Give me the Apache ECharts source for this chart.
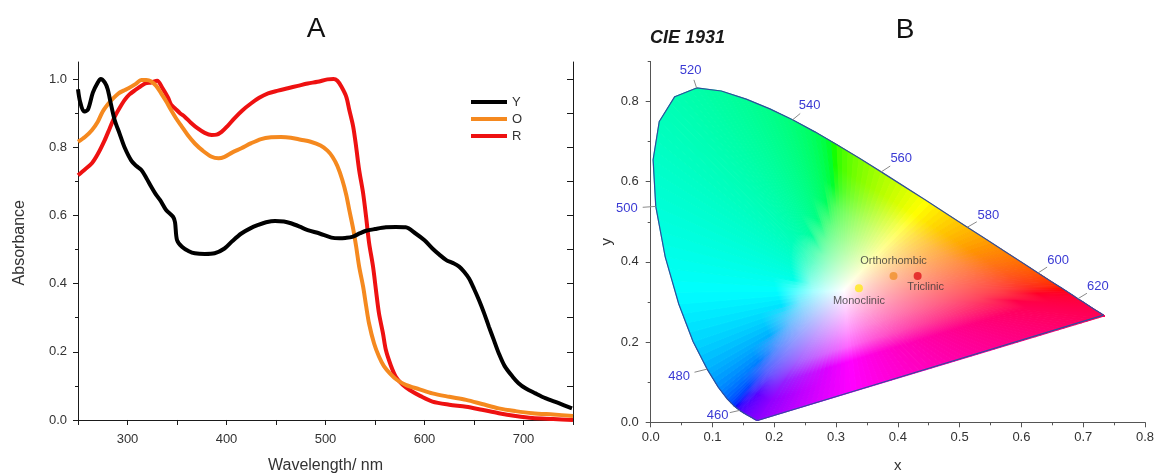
<!DOCTYPE html>
<html><head><meta charset="utf-8">
<script src="https://cdn.jsdelivr.net/npm/echarts@6/dist/echarts.min.js"></script>
<style>html,body{margin:0;padding:0;background:#fff}#c{width:1156px;height:476px}</style>
</head><body><div id="c"></div>
<script>
// ---------- Panel A: absorbance spectra ----------
const wlY = [250,252,256,260,265,270,273,277,280,283,287,292,297,304,309,314,319,324,329,333,339,346,348,350,355,362,368,378,388,398,406,415,424,432,440,449,458,465,474,482,494,506,514,520,527,535,541,550,561,571,581,591,600,608,615,622,629,635,640,645,650,655,660,665,670,675,681,689,695,702,712,722,735,749];
const absY = [0.97,0.935,0.905,0.91,0.96,0.99,1.0,0.99,0.97,0.93,0.88,0.84,0.80,0.76,0.745,0.733,0.71,0.684,0.66,0.645,0.616,0.596,0.58,0.528,0.508,0.495,0.489,0.487,0.489,0.503,0.525,0.547,0.562,0.572,0.58,0.584,0.582,0.577,0.567,0.557,0.547,0.535,0.533,0.534,0.537,0.548,0.555,0.56,0.565,0.566,0.565,0.547,0.527,0.503,0.485,0.469,0.46,0.45,0.435,0.415,0.385,0.352,0.315,0.274,0.235,0.196,0.158,0.127,0.108,0.093,0.078,0.064,0.05,0.034];

const wlO = [250,257,264,270,275,281,286,291,296,301,308,314,319,324,329,334,339,344,349,355,361,368,376,385,392,398,406,415,425,435,445,455,465,475,485,495,502,507,512,517,521,524,528,531,534,538,541,544,549,554,559,565,572,581,595,608,625,642,658,675,692,709,730,750];
const absO = [0.816,0.83,0.85,0.875,0.905,0.929,0.945,0.958,0.966,0.973,0.985,0.997,0.997,0.993,0.98,0.958,0.935,0.909,0.885,0.86,0.835,0.811,0.79,0.772,0.768,0.772,0.785,0.797,0.812,0.824,0.829,0.83,0.828,0.822,0.816,0.805,0.79,0.772,0.745,0.704,0.66,0.616,0.56,0.508,0.45,0.391,0.335,0.283,0.225,0.186,0.158,0.137,0.118,0.103,0.09,0.078,0.068,0.059,0.047,0.034,0.026,0.02,0.016,0.012];

const wlR = [250,257,264,270,277,282,287,292,297,302,308,313,318,324,330,335,341,344,348,353,358,364,371,378,385,390,395,401,408,416,425,433,442,452,462,472,482,492,502,508,512,516,521,524,528,531,534,538,541,544,548,551,554,558,561,566,571,578,585,596,608,625,642,658,675,692,709,730,750];
const absR = [0.718,0.735,0.753,0.78,0.821,0.855,0.889,0.915,0.938,0.955,0.968,0.978,0.987,0.99,0.995,0.975,0.945,0.925,0.914,0.9,0.889,0.872,0.855,0.842,0.836,0.837,0.845,0.862,0.885,0.908,0.929,0.945,0.958,0.966,0.973,0.98,0.987,0.992,0.999,1.0,0.995,0.978,0.948,0.91,0.86,0.8,0.733,0.665,0.596,0.52,0.45,0.38,0.313,0.255,0.205,0.16,0.127,0.103,0.088,0.07,0.054,0.045,0.039,0.03,0.02,0.012,0.006,0.003,0.0];

const seriesNames = ['Y','O','R'];
const xTickLabelsA = [300,400,500,600,700];
const yTickLabelsA = [0.0,0.2,0.4,0.6,0.8,1.0];

// ---------- Panel B: CIE 1931 ----------
const cieWl = [380,385,390,395,400,405,410,415,420,425,430,435,440,445,450,455,460,465,470,475,480,485,490,495,500,505,510,515,520,525,530,535,540,545,550,555,560,565,570,575,580,585,590,595,600,605,610,615,620,625,630,635,640,645,650,655,660,665,670,675,680,685,690,695,700];
const cieX = [0.1741,0.1740,0.1738,0.1736,0.1733,0.1730,0.1726,0.1721,0.1714,0.1703,0.1689,0.1669,0.1644,0.1611,0.1566,0.1510,0.1440,0.1355,0.1241,0.1096,0.0913,0.0687,0.0454,0.0235,0.0082,0.0039,0.0139,0.0389,0.0743,0.1142,0.1547,0.1929,0.2296,0.2658,0.3016,0.3373,0.3731,0.4087,0.4441,0.4788,0.5125,0.5448,0.5752,0.6029,0.6270,0.6482,0.6658,0.6801,0.6915,0.7006,0.7079,0.7140,0.7190,0.7230,0.7260,0.7283,0.7300,0.7311,0.7320,0.7327,0.7334,0.7340,0.7344,0.7346,0.7347];
const cieY = [0.0050,0.0050,0.0049,0.0049,0.0048,0.0048,0.0048,0.0048,0.0051,0.0058,0.0069,0.0086,0.0109,0.0138,0.0177,0.0227,0.0297,0.0399,0.0578,0.0868,0.1327,0.2007,0.2950,0.4127,0.5384,0.6548,0.7502,0.8120,0.8338,0.8262,0.8059,0.7816,0.7543,0.7243,0.6923,0.6589,0.6245,0.5896,0.5547,0.5202,0.4866,0.4544,0.4242,0.3965,0.3725,0.3514,0.3340,0.3197,0.3083,0.2993,0.2920,0.2859,0.2809,0.2770,0.2740,0.2717,0.2700,0.2689,0.2680,0.2673,0.2666,0.2660,0.2656,0.2654,0.2653];
const labelWl = [460,480,500,520,540,560,580,600,620];
const whitePoint = [0.3127, 0.3290];

const sampleNames = ['Monoclinic','Orthorhombic','Triclinic'];
const sampleX = [0.337, 0.393, 0.432];
const sampleY = [0.334, 0.365, 0.365];

const xTickLabelsB = [0.0,0.1,0.2,0.3,0.4,0.5,0.6,0.7,0.8];
const yTickLabelsB = [0.0,0.2,0.4,0.6,0.8];

// ---------- styles ----------
const FONT = 'Liberation Sans, Arial, sans-serif';
const lineColors = {Y:'#000000', O:'#f5891f', R:'#ee1111'};
const sampleColors = ['#ffe81a','#f0902a','#e0141a'];
const sampleLabelPos = [
  {position:'bottom', distance:3},
  {position:'top', distance:5},
  {position:'bottom', distance:2, offset:[8,0]}
];
const labelOffsets = {460:[-22,5],480:[-28,7],500:[-29,2],520:[-6,-18],540:[17,-14],560:[20,-13],580:[21,-12],600:[20,-13],620:[20,-12]};

// colour of a chromaticity (sRGB, out-of-gamut brought in by adding white)
function xyToRgb(x, y) {
  const X = x / y, Yv = 1, Z = (1 - x - y) / y;
  let r = 3.2406*X - 1.5372*Yv - 0.4986*Z;
  let g = -0.9689*X + 1.8758*Yv + 0.0415*Z;
  let b = 0.0557*X - 0.2040*Yv + 1.0570*Z;
  const mn = Math.min(r, g, b);
  if (mn < 0) { r -= mn; g -= mn; b -= mn; }
  const m = Math.max(r, g, b) || 1;
  const gam = v => v <= 0.0031308 ? 12.92*v : 1.055*Math.pow(v, 1/2.4) - 0.055;
  return 'rgb(' + Math.round(255*gam(r/m)) + ',' + Math.round(255*gam(g/m)) + ',' + Math.round(255*gam(b/m)) + ')';
}

// shading of the horseshoe: thin fan of gradient triangles from the white point
function renderFill(params, api) {
  const bx = [], by = [];
  const sub = 4;
  for (let i = 0; i < cieX.length - 1; i++) {
    for (let k = 0; k < sub; k++) {
      bx.push(cieX[i] + (cieX[i+1]-cieX[i])*k/sub);
      by.push(cieY[i] + (cieY[i+1]-cieY[i])*k/sub);
    }
  }
  const n = 60;
  const x0 = cieX[cieX.length-1], y0 = cieY[cieY.length-1], x1 = cieX[0], y1 = cieY[0];
  for (let k = 0; k < n; k++) { bx.push(x0 + (x1-x0)*k/n); by.push(y0 + (y1-y0)*k/n); }
  bx.push(x1); by.push(y1);
  const W = whitePoint;
  const wp = api.coord(W);
  const children = [];
  const ts = [0,0.04,0.1,0.18,0.28,0.4,0.55,0.7,0.85,1];
  for (let i = 0; i < bx.length-1; i++) {
    const a = api.coord([bx[i], by[i]]), b = api.coord([bx[i+1], by[i+1]]);
    const mx = (bx[i]+bx[i+1])/2, my = (by[i]+by[i+1])/2;
    const mp = api.coord([mx, my]);
    const stops = ts.map(t => ({offset:t, color: xyToRgb(W[0]+(mx-W[0])*t, W[1]+(my-W[1])*t)}));
    const grad = new echarts.graphic.LinearGradient(wp[0], wp[1], mp[0], mp[1], stops, true);
    children.push({type:'polygon', shape:{points:[wp, a, b]}, style:{fill:grad, stroke:grad, lineWidth:1}});
  }
  return {type:'group', children};
}

function renderWlLabel(params, api) {
  const p = api.coord([api.value(0), api.value(1)]);
  const w = api.value(2);
  const off = labelOffsets[w];
  return {type:'group', children:[
    {type:'line', shape:{x1:p[0], y1:p[1], x2:p[0]+off[0]*0.45, y2:p[1]+off[1]*0.45}, style:{stroke:'#8a8a8a', lineWidth:1}},
    {type:'text', x:p[0]+off[0], y:p[1]+off[1], style:{text:String(w), align:'center', verticalAlign:'middle', fill:'#3a3ad4', fontSize:13, fontFamily:FONT}}
  ]};
}

const zip = (a, b) => a.map((v, i) => [v, b[i]]);
const fmt1 = v => Number(v).toFixed(1);

const chart = echarts.init(document.getElementById('c'), null, {renderer:'canvas'});
const axisA = '#1a1a1a', axisB = '#555';

const option = {
  animation: false,
  backgroundColor: '#fff',
  textStyle: {fontFamily: FONT},
  grid: [
    {left:78, right:583, top:62, bottom:52.6, containLabel:false, outerBoundsMode:'none'},
    {left:650.7, right:11, top:61.4, bottom:53.7, containLabel:false, outerBoundsMode:'none'}
  ],
  xAxis: [
    {gridIndex:0, type:'value', min:250, max:750, position:'bottom',
     axisLine:{show:true, lineStyle:{color:axisA, width:1}},
     axisTick:{show:true, customValues:xTickLabelsA, length:5, lineStyle:{color:axisA}},
     axisLabel:{customValues:xTickLabelsA, fontSize:13, color:'#333', margin:10},
     splitLine:{show:false},
     name:'Wavelength/ nm', nameLocation:'middle', nameGap:34, nameTextStyle:{fontSize:16, color:'#333'}},
    {gridIndex:0, type:'value', min:250, max:750, position:'bottom',
     axisLine:{show:false}, axisTick:{show:true, customValues:[250,350,450,550,650,750], length:3, lineStyle:{color:axisA}},
     axisLabel:{show:false}, splitLine:{show:false}},
    {gridIndex:0, type:'value', min:250, max:750, position:'top',
     axisLine:{show:true, lineStyle:{color:axisA, width:1}},
     axisTick:{show:true, inside:true, customValues:[250,300,350,400,450,500,550,600,650,700,750], length:5, lineStyle:{color:axisA}},
     axisLabel:{show:false}, splitLine:{show:false}},
    {gridIndex:1, type:'value', min:0, max:0.8, position:'bottom',
     axisLine:{show:true, lineStyle:{color:axisB, width:1}},
     axisTick:{show:true, customValues:xTickLabelsB, length:5, lineStyle:{color:axisB}},
     axisLabel:{customValues:xTickLabelsB, formatter:fmt1, fontSize:13, color:'#333', margin:9},
     splitLine:{show:false},
     name:'x', nameLocation:'middle', nameGap:36, nameTextStyle:{fontSize:15, color:'#333'}},
    {gridIndex:1, type:'value', min:0, max:0.8, position:'bottom',
     axisLine:{show:false}, axisTick:{show:true, customValues:[0.05,0.15,0.25,0.35,0.45,0.55,0.65,0.75], length:3, lineStyle:{color:axisB}},
     axisLabel:{show:false}, splitLine:{show:false}}
  ],
  yAxis: [
    {gridIndex:0, type:'value', min:-0.01, max:1.05, position:'left',
     axisLine:{show:true, lineStyle:{color:axisA, width:1}},
     axisTick:{show:true, customValues:yTickLabelsA, length:5, lineStyle:{color:axisA}},
     axisLabel:{customValues:yTickLabelsA, formatter:fmt1, fontSize:13, color:'#333', margin:11},
     splitLine:{show:false},
     name:'Absorbance', nameLocation:'middle', nameRotate:90, nameGap:50, nameTextStyle:{fontSize:16, color:'#333'}},
    {gridIndex:0, type:'value', min:-0.01, max:1.05, position:'left',
     axisLine:{show:false}, axisTick:{show:true, customValues:[0.1,0.3,0.5,0.7,0.9], length:3, lineStyle:{color:axisA}},
     axisLabel:{show:false}, splitLine:{show:false}},
    {gridIndex:0, type:'value', min:-0.01, max:1.05, position:'right',
     axisLine:{show:true, lineStyle:{color:axisA, width:1}},
     axisTick:{show:true, inside:true, customValues:[0,0.1,0.2,0.3,0.4,0.5,0.6,0.7,0.8,0.9,1.0], length:6, lineStyle:{color:axisA}},
     axisLabel:{show:false}, splitLine:{show:false}},
    {gridIndex:1, type:'value', min:0, max:0.9, position:'left',
     axisLine:{show:true, lineStyle:{color:axisB, width:1}},
     axisTick:{show:true, customValues:yTickLabelsB, length:5, lineStyle:{color:axisB}},
     axisLabel:{customValues:yTickLabelsB, formatter:fmt1, fontSize:13, color:'#333', margin:12},
     splitLine:{show:false},
     name:'y', nameLocation:'middle', nameRotate:90, nameGap:36, nameTextStyle:{fontSize:15, color:'#333'}},
    {gridIndex:1, type:'value', min:0, max:0.9, position:'left',
     axisLine:{show:false}, axisTick:{show:true, customValues:[0.1,0.3,0.5,0.7,0.9], length:3, lineStyle:{color:axisB}},
     axisLabel:{show:false}, splitLine:{show:false}}
  ],
  legend: {
    data: seriesNames, orient:'vertical', left:466, top:90, icon:'rect',
    itemWidth:36, itemHeight:4, itemGap:3,
    textStyle:{fontSize:13, color:'#333', lineHeight:14}
  },
  graphic: [
    {type:'text', x:316, y:29, style:{text:'A', fontSize:28, fontFamily:FONT, fill:'#111', align:'center', verticalAlign:'middle'}},
    {type:'text', x:905, y:30, style:{text:'B', fontSize:28, fontFamily:FONT, fill:'#111', align:'center', verticalAlign:'middle'}},
    {type:'text', x:650, y:38, style:{text:'CIE 1931', fontSize:18, fontStyle:'italic', fontWeight:'bold', fontFamily:FONT, fill:'#1a1a1a', align:'left', verticalAlign:'middle'}}
  ],
  series: [
    {name:'R', type:'line', xAxisIndex:0, yAxisIndex:0, data:zip(wlR, absR), showSymbol:false, smooth:0.3, lineStyle:{color:lineColors.R, width:4}, itemStyle:{color:lineColors.R}, z:3},
    {name:'O', type:'line', xAxisIndex:0, yAxisIndex:0, data:zip(wlO, absO), showSymbol:false, smooth:0.3, lineStyle:{color:lineColors.O, width:4}, itemStyle:{color:lineColors.O}, z:4},
    {name:'Y', type:'line', xAxisIndex:0, yAxisIndex:0, data:zip(wlY, absY), showSymbol:false, smooth:0.3, lineStyle:{color:lineColors.Y, width:4}, itemStyle:{color:lineColors.Y}, z:5},
    {name:'fill', type:'custom', xAxisIndex:3, yAxisIndex:3, data:[[whitePoint[0], whitePoint[1]]], renderItem:renderFill, silent:true, clip:false, z:1},
    {name:'locus', type:'line', xAxisIndex:3, yAxisIndex:3, data:zip(cieX.concat([cieX[0]]), cieY.concat([cieY[0]])), showSymbol:false, lineStyle:{color:'#2f4d9c', width:1.2}, silent:true, z:2},
    {name:'wl', type:'custom', xAxisIndex:3, yAxisIndex:3, data:labelWl.map(w => { const i = cieWl.indexOf(w); return [cieX[i], cieY[i], w]; }), renderItem:renderWlLabel, silent:true, clip:false, z:3},
    {name:'samples', type:'scatter', xAxisIndex:3, yAxisIndex:3, symbolSize:8, z:4,
     data: sampleNames.map((nm, i) => ({name:nm, value:[sampleX[i], sampleY[i]], itemStyle:{color:sampleColors[i]},
       label:Object.assign({show:true, formatter:'{b}', fontSize:11, color:'#333', fontFamily:FONT}, sampleLabelPos[i])}))}
  ]
};
chart.setOption(option);
</script>
</body></html>
